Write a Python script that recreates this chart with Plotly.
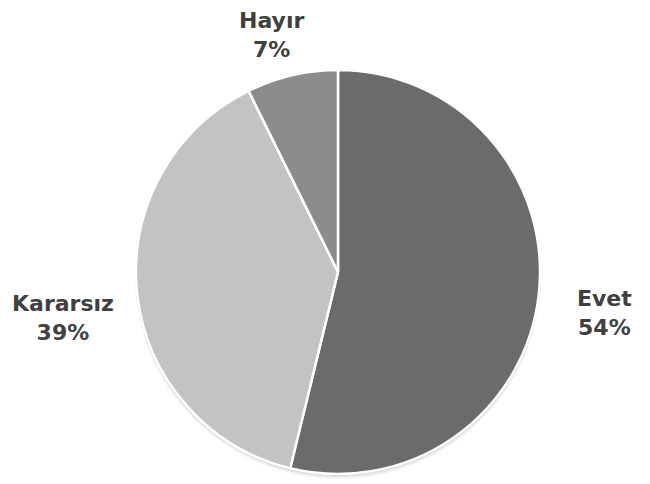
import math
import plotly.graph_objects as go

labels = ["Evet", "Kararsız", "Hayır"]
values = [53.8, 38.9, 7.3]
colors = ["#6b6b6b", "#c3c3c3", "#8c8c8c"]

W, H = 650, 484
CX, CY, R = 330, 264, 202   # pie centre and radius in px (page adds 8px body margin)
# pixel nudges for each label away from the slice's outer edge
label_shift = [(66, -17), (-74, -24), (-21, 40)]

fig = go.Figure()
fig.add_trace(go.Pie(
    labels=labels,
    values=values,
    sort=False,
    direction="clockwise",
    rotation=0,
    marker=dict(colors=colors, line=dict(color="white", width=2.5)),
    textinfo="none",
    hoverinfo="skip",
    domain=dict(x=[(CX - R) / W, (CX + R) / W], y=[1 - (CY + R) / H, 1 - (CY - R) / H]),
))

# soft shadow under the pie
for k, a in [(5, 0.05), (3, 0.07), (1.5, 0.08)]:
    fig.add_shape(type="circle", xref="paper", yref="paper", layer="below",
                  x0=(CX - R - 1) / W, x1=(CX + R + 1) / W,
                  y0=1 - (CY + R + k) / H, y1=1 - (CY - R + k - 2) / H,
                  fillcolor="rgba(0,0,0,%s)" % a, line=dict(width=0))

total = sum(values)
start = 0
for lab, v, (sx, sy) in zip(labels, values, label_shift):
    mid = (start + v / 2) / total * 2 * math.pi
    start += v
    px = CX + R * math.sin(mid)
    py = CY - R * math.cos(mid)
    fig.add_annotation(
        x=px / W, y=1 - py / H, xref="paper", yref="paper",
        xshift=sx, yshift=sy,
        text="<b>%s<br>%d%%</b>" % (lab, round(v / total * 100)),
        showarrow=False, xanchor="center", yanchor="middle", borderpad=0,
        font=dict(family="DejaVu Sans", size=22, color="#404040"),
    )

fig.update_layout(
    width=W, height=H,
    margin=dict(l=0, r=0, t=0, b=0),
    paper_bgcolor="white",
    showlegend=False,
)
fig.write_html("out.html")
